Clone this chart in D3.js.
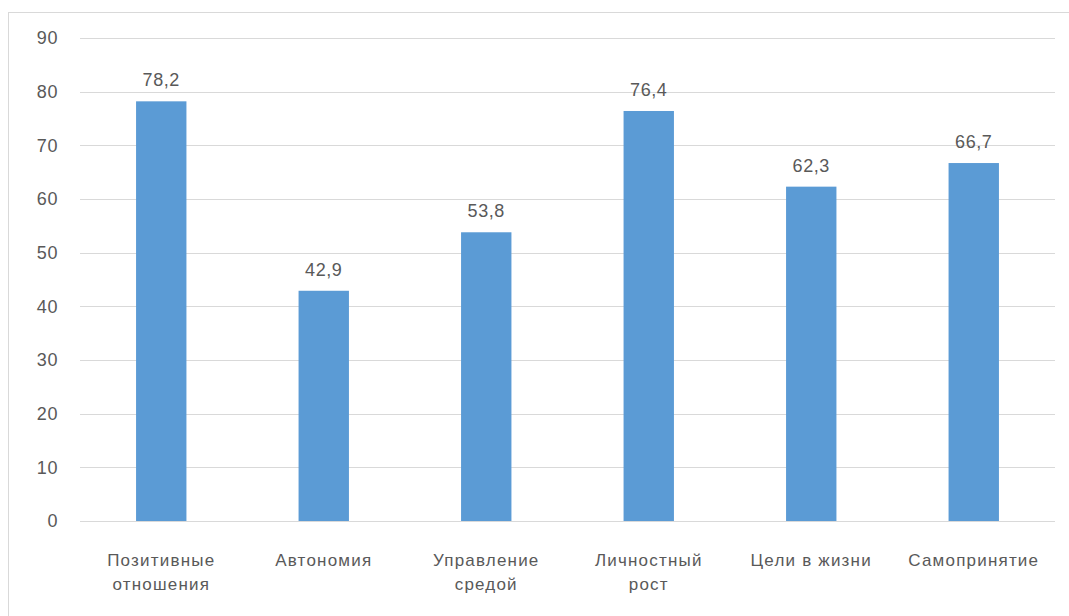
<!DOCTYPE html>
<html>
<head>
<meta charset="utf-8">
<script src="https://cdn.jsdelivr.net/npm/d3@7"></script>
<style>
  html, body { margin: 0; padding: 0; background: #fff; }
  svg { display: block; }
  text { font-family: "Liberation Sans", sans-serif; fill: #595959; }
</style>
</head>
<body>
<svg id="chart" width="1069" height="616"></svg>
<script>
// Scale dimensions (percent)
const categories = [
  ["Позитивные", "отношения"],
  ["Автономия"],
  ["Управление", "средой"],
  ["Личностный", "рост"],
  ["Цели в жизни"],
  ["Самопринятие"]
];
const values = [78.2, 42.9, 53.8, 76.4, 62.3, 66.7];
const valueLabels = ["78,2", "42,9", "53,8", "76,4", "62,3", "66,7"];
const yTicks = [0, 10, 20, 30, 40, 50, 60, 70, 80, 90];

const svg = d3.select("#chart");
const W = 1069, H = 616;
const margin = { left: 80, right: 14, top: 38, bottom: 95 };

// outer chart frame
svg.append("rect")
  .attr("x", 8.5).attr("y", 12.5)
  .attr("width", W + 10).attr("height", H + 10)
  .attr("fill", "#fff").attr("stroke", "#d9d9d9").attr("stroke-width", 1);

const keys = categories.map((c, i) => i);
const x = d3.scaleBand()
  .domain(keys)
  .range([margin.left, W - margin.right])
  .paddingInner(0.69).paddingOuter(0.345);

const y = d3.scaleLinear().domain([0, 90]).range([H - margin.bottom, margin.top]);

// horizontal gridlines
svg.append("g").selectAll("line").data(yTicks).join("line")
  .attr("x1", margin.left).attr("x2", W - margin.right)
  .attr("y1", d => Math.round(y(d)) + 0.5).attr("y2", d => Math.round(y(d)) + 0.5)
  .attr("stroke", "#d9d9d9").attr("stroke-width", 1);

// y axis labels
const yAxis = d3.axisLeft(y).tickValues(yTicks).tickSize(0).tickPadding(0);
const gy = svg.append("g").attr("transform", `translate(58,0)`).call(yAxis);
gy.select(".domain").remove();
gy.attr("font-size", null).attr("font-family", null);
gy.selectAll("text")
  .style("font-size", "18px")
  .style("fill", "#595959")
  .attr("letter-spacing", 0.6);

// bars
svg.append("g").selectAll("rect").data(values).join("rect")
  .attr("x", (d, i) => x(i))
  .attr("width", x.bandwidth())
  .attr("y", d => y(d))
  .attr("height", d => y(0) - y(d))
  .attr("fill", "#5b9bd5");

// value labels
svg.append("g").selectAll("text").data(values).join("text")
  .attr("x", (d, i) => x(i) + x.bandwidth() / 2)
  .attr("y", d => y(d) - 15)
  .attr("text-anchor", "middle")
  .style("font-size", "18px")
  .attr("letter-spacing", 0.6)
  .text((d, i) => valueLabels[i]);

// category labels
const cat = svg.append("g").selectAll("text").data(categories).join("text")
  .attr("x", (d, i) => x(i) + x.bandwidth() / 2)
  .attr("y", 566)
  .attr("text-anchor", "middle")
  .style("font-size", "17px")
  .attr("letter-spacing", 1.2);
cat.selectAll("tspan").data(d => d).join("tspan")
  .attr("x", function () { return d3.select(this.parentNode).attr("x"); })
  .attr("dy", (d, j) => j === 0 ? 0 : 24)
  .text(d => d);
</script>
</body>
</html>
